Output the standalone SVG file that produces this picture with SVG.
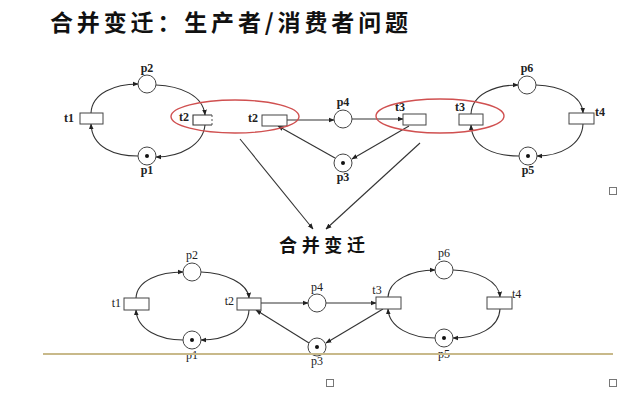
<svg xmlns="http://www.w3.org/2000/svg" width="640" height="409" viewBox="0 0 640 409">
<defs>
<marker id="ah" viewBox="0 0 10 10" refX="9" refY="5" markerWidth="6" markerHeight="6" orient="auto" markerUnits="userSpaceOnUse">
<path d="M0,1 L10,5 L0,9 z" fill="#222"/>
</marker>
<style>
.e{fill:none;stroke:#333;stroke-width:1.1;marker-end:url(#ah)}
.ln{fill:none;stroke:#333;stroke-width:1.1}
.pl{fill:#fff;stroke:#444;stroke-width:1}
.tr{fill:#fff;stroke:#444;stroke-width:1}
.tk{fill:#111}
.lt{font-family:"Liberation Serif",serif;font-size:12px;font-weight:bold;fill:#222}
.lb{font-family:"Liberation Serif",serif;font-size:12px;fill:#222}
.red{fill:none;stroke:#d05050;stroke-width:1.4}
.cn{font-family:"Noto Sans CJK SC",sans-serif;font-weight:bold;fill:#111}
.sq{fill:#fff;stroke:#777;stroke-width:1}
</style>
</defs>
<rect width="640" height="409" fill="#fff"/>
<text class="cn" x="50" y="31" font-size="23" textLength="358" lengthAdjust="spacing">合并变迁：生产者/消费者问题</text>

<g id="connectors">
<!-- top left loop -->
<path class="e" d="M91,113 C92,93 115,84 138,84"/>
<path class="e" d="M156,85 C180,86 203,95 205,115"/>
<path class="e" d="M205,125 C203,145 180,157 156,157"/>
<path class="e" d="M138,156 C115,156 92,148 91,124"/>
<!-- top middle -->
<path class="e" d="M287,120 L334,120"/>
<path class="e" d="M352,119 L403,119"/>
<path class="e" d="M335,158 L278,126"/>
<path class="e" d="M409,126 L352,159"/>
<!-- top right loop -->
<path class="e" d="M471,114 C472,94 495,85 518,85"/>
<path class="e" d="M536,85 C560,86 582,95 583,113"/>
<path class="e" d="M583,124 C582,145 560,156 537,156"/>
<path class="e" d="M519,156 C495,156 472,148 471,125"/>
<!-- merge arrows -->
<path class="e" d="M240,139 L313,229"/>
<path class="e" d="M420,143 L326,229"/>
<!-- bottom left loop -->
<path class="e" d="M136,298 C137,280 160,272 183,272"/>
<path class="e" d="M201,272 C225,273 248,283 249,298"/>
<path class="e" d="M249,310 C248,330 225,340 201,340"/>
<path class="e" d="M183,340 C160,340 137,330 136,310"/>
<!-- bottom middle -->
<path class="e" d="M261,303 L308,303"/>
<path class="e" d="M326,303 L376,303"/>
<path class="e" d="M309,343 L256,310"/>
<path class="e" d="M383,309 L326,343"/>
<!-- bottom right loop -->
<path class="e" d="M388,297 C389,280 412,270 435,270"/>
<path class="e" d="M453,270 C478,271 499,281 500,297"/>
<path class="e" d="M500,309 C499,328 478,338 453,338"/>
<path class="e" d="M435,338 C412,338 389,328 388,309"/>
</g>

<!-- top nodes -->
<g id="top-t1"><rect class="tr" x="80" y="113" width="23" height="11"/><text class="lt" x="74" y="122" text-anchor="end">t1</text></g>
<g id="top-p2"><circle class="pl" cx="147" cy="84" r="9"/><text class="lt" x="147" y="72" text-anchor="middle">p2</text></g>
<g id="top-p1"><circle class="pl" cx="147" cy="156" r="9"/><circle class="tk" cx="147" cy="156" r="2"/><text class="lt" x="147" y="174" text-anchor="middle">p1</text></g>
<g id="top-t2a"><path class="ln" d="M212,115 H193 V125 H212"/><path d="M212,115 V125" stroke="#555" stroke-width="1" stroke-dasharray="2,2"/><text class="lt" x="189" y="121" text-anchor="end">t2</text></g>
<g id="top-t2b"><rect class="tr" x="262" y="115" width="25" height="11"/><text class="lt" x="258" y="122" text-anchor="end">t2</text></g>
<g id="top-p4"><circle class="pl" cx="343" cy="119" r="9"/><text class="lt" x="343" y="106" text-anchor="middle">p4</text></g>
<g id="top-p3"><circle class="pl" cx="343" cy="163" r="9"/><circle class="tk" cx="343" cy="163" r="2"/><text class="lt" x="343" y="181" text-anchor="middle">p3</text></g>
<g id="top-t3a"><rect class="tr" x="403" y="114" width="23" height="11"/><text class="lt" x="400" y="111" text-anchor="middle">t3</text></g>
<g id="top-t3b"><rect class="tr" x="459" y="114" width="24" height="11"/><text class="lt" x="460" y="111" text-anchor="middle">t3</text></g>
<g id="top-p6"><circle class="pl" cx="527" cy="85" r="9"/><text class="lt" x="527" y="72" text-anchor="middle">p6</text></g>
<g id="top-t4"><rect class="tr" x="569" y="113" width="25" height="11"/><text class="lt" x="595" y="116">t4</text></g>
<g id="top-p5"><circle class="pl" cx="528" cy="156" r="9"/><circle class="tk" cx="528" cy="156" r="2"/><text class="lt" x="528" y="174" text-anchor="middle">p5</text></g>
<g id="ellipse1"><ellipse class="red" cx="235" cy="116.5" rx="64" ry="16.5"/></g>
<g id="ellipse2"><ellipse class="red" cx="440" cy="116" rx="64" ry="17"/></g>

<g id="merge-label"><text class="cn" x="279" y="252" font-size="18" textLength="86" lengthAdjust="spacing">合并变迁</text></g>

<!-- bottom nodes -->
<g id="bot-t1"><rect class="tr" x="124" y="298" width="25" height="12"/><text class="lb" x="121" y="307" text-anchor="end">t1</text></g>
<g id="bot-p2"><circle class="pl" cx="192" cy="272" r="9"/><text class="lb" x="192" y="259" text-anchor="middle">p2</text></g>
<g id="bot-p1"><circle class="pl" cx="192" cy="340" r="9"/><circle class="tk" cx="192" cy="340" r="2"/><text class="lb" x="192" y="359" text-anchor="middle">p1</text></g>
<g id="bot-t2"><rect class="tr" x="237" y="298" width="24" height="12"/><text class="lb" x="234" y="305" text-anchor="end">t2</text></g>
<g id="bot-p4"><circle class="pl" cx="317" cy="303" r="9"/><text class="lb" x="317" y="291" text-anchor="middle">p4</text></g>
<g id="bot-p3"><circle class="pl" cx="317" cy="347" r="9"/><circle class="tk" cx="317" cy="347" r="2"/><text class="lb" x="317" y="365" text-anchor="middle">p3</text></g>
<g id="bot-t3"><rect class="tr" x="376" y="297" width="25" height="12"/><text class="lb" x="377" y="294" text-anchor="middle">t3</text></g>
<g id="bot-p6"><circle class="pl" cx="444" cy="270" r="9"/><text class="lb" x="444" y="257" text-anchor="middle">p6</text></g>
<g id="bot-t4"><rect class="tr" x="487" y="297" width="25" height="12"/><text class="lb" x="512" y="298">t4</text></g>
<g id="bot-p5"><circle class="pl" cx="444" cy="338" r="9"/><circle class="tk" cx="444" cy="338" r="2"/><text class="lb" x="444" y="358" text-anchor="middle">p5</text></g>

<line x1="43" y1="354" x2="613" y2="354" stroke="#c8b98a" stroke-width="2"/>
<rect class="sq" x="609.5" y="187.5" width="7" height="7"/>
<rect class="sq" x="326.5" y="379.5" width="7" height="7"/>
<rect class="sq" x="609.5" y="379.5" width="7" height="7"/>
</svg>
